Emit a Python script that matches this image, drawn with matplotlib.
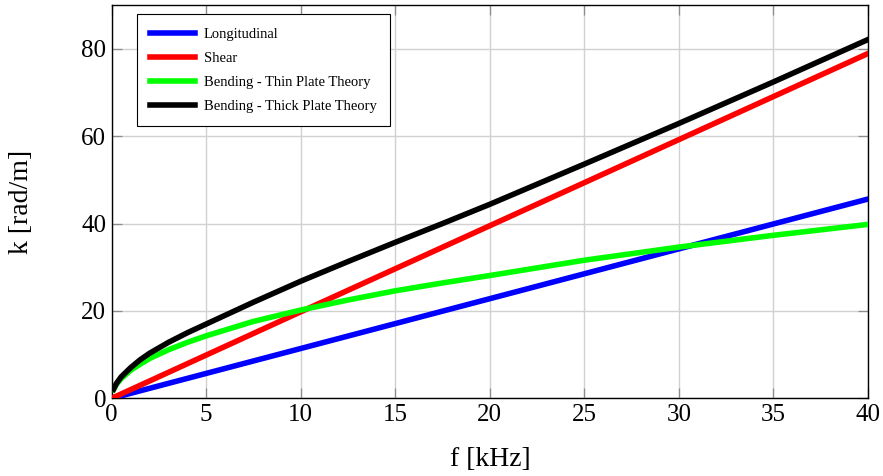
import matplotlib
matplotlib.use("Agg")
import matplotlib.pyplot as plt

# frequency samples [kHz] and wavenumbers [rad/m]
f_lin = [0, 10, 20, 30, 40]
k_long = [0, 11.4, 22.8, 34.2, 45.6]
k_shear = [0, 19.8, 39.5, 59.2, 78.9]

f_bend = [0.1, 0.25, 0.5, 1, 1.5, 2, 3, 4, 5, 7.5, 10, 12.5, 15, 17.5, 20, 25, 30, 35, 40]
k_thin = [2.0, 3.2, 4.5, 6.4, 7.8, 9.1, 11.1, 12.8, 14.3, 17.6, 20.2, 22.5, 24.6, 26.4, 28.1, 31.6, 34.6, 37.3, 39.8]
k_thick = [2.1, 3.4, 4.9, 7.0, 8.8, 10.3, 12.8, 15.0, 17.0, 22.0, 26.8, 31.3, 35.7, 40.0, 44.4, 53.6, 62.9, 72.4, 82.1]

xticks = [0, 5, 10, 15, 20, 25, 30, 35, 40]
yticks = [0, 20, 40, 60, 80]

plt.rcParams["font.family"] = ["Liberation Serif", "DejaVu Serif"]


def main():
    fig = plt.figure(figsize=(8.83, 4.76), dpi=100)
    ax = fig.add_axes([0.1265, 0.1632, 0.8565, 0.8263])

    lw = 4.0
    ax.plot(f_lin, k_long, color="blue", lw=lw, label="Longitudinal", zorder=3)
    ax.plot(f_lin, k_shear, color="red", lw=lw, label="Shear", zorder=3)
    ax.plot(f_bend, k_thin, color="#00ff00", lw=lw, label="Bending - Thin Plate Theory", zorder=3)
    ax.plot(f_bend, k_thick, color="black", lw=lw, label="Bending - Thick Plate Theory", zorder=4)

    ax.set_xlim(0, 40)
    ax.set_ylim(0, 90)
    ax.set_xticks(xticks)
    ax.set_yticks(yticks)
    ax.tick_params(direction="in", top=True, right=True, length=7, width=0.9,
                   color="0.55", labelsize=18, pad=4)
    ax.grid(True, color="0.82", lw=1.0)
    ax.set_axisbelow(True)
    for s in ax.spines.values():
        s.set_linewidth(1.0)

    ax.set_xlabel("f [kHz]", fontsize=20, labelpad=15)
    ax.set_ylabel("k [rad/m]", fontsize=20, labelpad=34)

    leg = ax.legend(loc="upper left", bbox_to_anchor=(0.033, 0.976), borderaxespad=0,
                    fontsize=10.5, handlelength=3.1, labelspacing=0.74, handletextpad=0.6,
                    borderpad=0.9, fancybox=False, framealpha=1.0, edgecolor="black")
    leg.get_frame().set_linewidth(0.8)

    fig.savefig("out.png", dpi=100)


if __name__ == "__main__":
    main()
